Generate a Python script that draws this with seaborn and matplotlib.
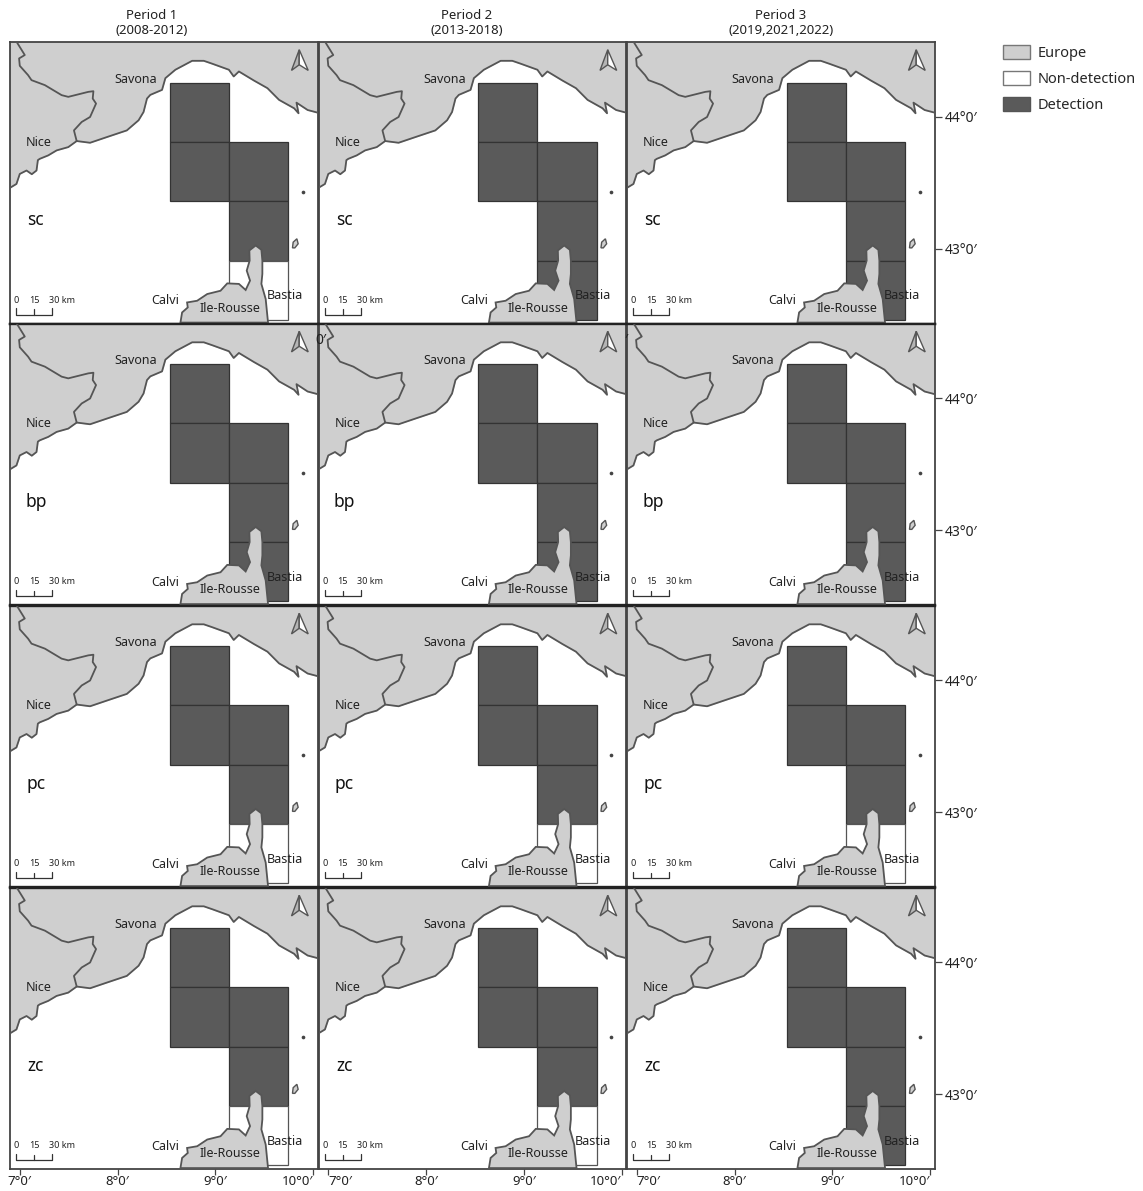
import seaborn as sns
import matplotlib.pyplot as plt
import pandas as pd
from matplotlib.patches import Patch
from matplotlib.transforms import ScaledTranslation

periods = ["Period 1\n(2008-2012)", "Period 2\n(2013-2018)", "Period 3\n(2019,2021,2022)"]
species = ["sc", "bp", "pc", "zc"]
legend_labels = ["Europe", "Non-detection", "Detection"]

# last grid cell (over Cap Corse), 1 = detection, per period
corse_cell = {
    "sc": [0, 1, 1],
    "bp": [1, 1, 1],
    "pc": [0, 0, 0],
    "zc": [0, 0, 1],
}

# grid cells, always detected apart from the last one
cell_lon_edges = [8.533, 9.139, 9.745]
cell_lat_edges = [44.262, 43.812, 43.361, 42.908, 42.458]
fixed_cols = [0, 0, 1, 1]
fixed_rows = [0, 1, 1, 2]

coast_lon = [6.897, 6.966, 7.0, 7.069, 7.123, 7.171, 7.185, 7.205, 7.291, 7.377, 7.496, 7.582, 7.719, 7.890,
             8.095, 8.215, 8.266, 8.301, 8.335, 8.455, 8.489, 8.591, 8.763, 8.882, 8.968, 9.139, 9.188, 9.241,
             9.395, 9.533, 9.652, 9.806, 9.851, 9.830, 9.944, 10.046]
coast_lat = [43.460, 43.491, 43.567, 43.593, 43.565, 43.593, 43.672, 43.682, 43.708, 43.746, 43.771, 43.817,
             43.804, 43.847, 43.898, 43.975, 44.038, 44.140, 44.168, 44.206, 44.295, 44.359, 44.427, 44.427,
             44.405, 44.359, 44.308, 44.346, 44.277, 44.219, 44.130, 44.066, 44.028, 44.109, 44.053, 44.033]
border_lon = [6.966, 7.051, 6.993, 7.0, 7.085, 7.120, 7.257, 7.428, 7.496, 7.701, 7.753, 7.746, 7.780, 7.719,
              7.633, 7.554, 7.582]
border_lat = [44.573, 44.471, 44.445, 44.389, 44.318, 44.280, 44.242, 44.166, 44.153, 44.191, 44.196, 44.140,
              44.102, 44.0, 43.962, 43.898, 43.817]
corsica_lon = [8.643, 8.660, 8.718, 8.711, 8.814, 8.917, 9.053, 9.122, 9.241, 9.310, 9.355, 9.321, 9.351, 9.348,
               9.413, 9.471, 9.481, 9.481, 9.471, 9.515, 9.539]
corsica_lat = [42.437, 42.514, 42.552, 42.590, 42.603, 42.654, 42.679, 42.735, 42.731, 42.685, 42.756, 42.832,
               42.908, 42.985, 43.023, 42.990, 42.908, 42.807, 42.731, 42.616, 42.437]
capraia_lon = [9.789, 9.796, 9.834, 9.847, 9.813]
capraia_lat = [43.005, 43.048, 43.074, 43.036, 43.005]
gorgona_lon = [9.892]
gorgona_lat = [43.430]

places = ["Savona", "Nice", "Calvi", "Ile-Rousse", "Bastia"]
place_lon = [8.188, 7.198, 8.489, 9.149, 9.710]
place_lat = [44.287, 43.806, 42.603, 42.547, 42.641]

lon_ticks = [7, 8, 9, 10]
lon_labels = ["7°0′", "8°0′", "9°0′", "10°0′"]
lat_ticks = [43, 44]
lat_labels = ["43°0′", "44°0′"]

scale_lon = [6.966, 7.147, 7.332]
scale_labels = ["0", "15", "30 km"]
scale_label_lon = [6.966, 7.147, 7.43]

arrow_left_lon = [9.858, 9.779, 9.858]
arrow_left_lat = [44.511, 44.354, 44.397]
arrow_right_lon = [9.858, 9.950, 9.858]
arrow_right_lat = [44.511, 44.354, 44.397]

LAND = "#cfcfcf"
COAST = "#555555"
DARK = "#5a5a5a"
EDGE = "#333333"
W, H = 1143, 1191
col_x = [10, 318.5, 627]
row_y = [42, 323.5, 605.5, 887.5]
title_x = [152, 467, 781]
PW, PH = 308, 281.5

sns.set_theme(style="white")
plt.rcParams["font.family"] = ["Noto Sans", "DejaVu Sans"]

fig = plt.figure(figsize=(W / 100, H / 100), dpi=100)


def draw_cell(ax, col, row, detected):
    left, right = cell_lon_edges[col], cell_lon_edges[col + 1]
    top, bottom = cell_lat_edges[row], cell_lat_edges[row + 1]
    ax.bar(left, top - bottom, width=right - left, bottom=bottom, align="edge",
           color=DARK if detected else "white", edgecolor=EDGE if detected else COAST, linewidth=0.9, zorder=2)


def draw_line(ax, lon, lat, width=1.3):
    frame = pd.DataFrame({"lon": lon, "lat": lat})
    sns.lineplot(data=frame, x="lon", y="lat", sort=False, estimator=None, color=COAST,
                 linewidth=width, ax=ax, zorder=4)


def nudge(label, px):
    label.set_transform(label.get_transform() + ScaledTranslation(px / 100, 0, fig.dpi_scale_trans))


for r, sp in enumerate(species):
    for c in range(3):
        ax = fig.add_axes([col_x[c] / W, 1 - (row_y[r] + PH) / H, PW / W, PH / H])

        # Europe: the coast closed along the top of the panel
        ax.fill(coast_lon + [10.1, 6.85, 6.85], coast_lat + [44.7, 44.7, 43.460], color=LAND, zorder=1)
        for i, j in zip(fixed_cols, fixed_rows):
            draw_cell(ax, i, j, True)
        draw_cell(ax, 1, 3, corse_cell[sp][c])
        ax.fill(corsica_lon, corsica_lat, facecolor=LAND, edgecolor=COAST, linewidth=1.3, zorder=3)
        ax.fill(capraia_lon, capraia_lat, facecolor=LAND, edgecolor=COAST, linewidth=1.0, zorder=4)

        draw_line(ax, coast_lon, coast_lat)
        draw_line(ax, border_lon, border_lat)
        sns.scatterplot(x=gorgona_lon, y=gorgona_lat, s=7, color="#444444", linewidth=0, legend=False, ax=ax,
                        zorder=4)

        for name, x, y in zip(places, place_lon, place_lat):
            ax.text(x, y, name, ha="center", va="center", fontsize=9, color="#222222", zorder=6)
        ax.text(7.164, 43.214, sp, ha="center", va="center", fontsize=12.5, color="#111111", zorder=6)

        # scale bar
        ax.plot([scale_lon[0], scale_lon[0], scale_lon[2], scale_lon[2]], [42.547, 42.496, 42.496, 42.547],
                color="#333333", linewidth=0.9, zorder=5)
        ax.plot([scale_lon[1], scale_lon[1]], [42.496, 42.54], color="#333333", linewidth=0.9, zorder=5)
        for x, lab in zip(scale_label_lon, scale_labels):
            ax.text(x, 42.605, lab, ha="center", va="center", fontsize=6.5, color="#222222", zorder=6)

        # north arrow
        ax.fill(arrow_left_lon, arrow_left_lat, facecolor="#b5b5b5", edgecolor="#555555", linewidth=1.0, zorder=5)
        ax.fill(arrow_right_lon, arrow_right_lat, facecolor="white", edgecolor="#555555", linewidth=1.0, zorder=5)

        ax.set_xlim(6.9, 10.05)
        ax.set_ylim(42.43, 44.57)
        ax.set_xlabel("")
        ax.set_ylabel("")
        for s in ax.spines.values():
            s.set_color("#444444")
            s.set_linewidth(1.3)
        if r < 3:
            ax.spines["bottom"].set_color("#222222")
            ax.spines["bottom"].set_linewidth(1.7)
        if r > 0:
            ax.spines["top"].set_color("#222222")
            ax.spines["top"].set_linewidth(1.7)

        ax.yaxis.tick_right()
        ax.set_xticks(lon_ticks if r == 3 else [])
        ax.set_yticks(lat_ticks if c == 2 else [])
        if r == 3:
            labels = ax.set_xticklabels(lon_labels, fontsize=9.5, color="#222222")
            # end labels are pushed inwards so they do not run into the next panel
            if c == 0:
                nudge(labels[0], -4)
            else:
                labels[0].set_ha("left")
                nudge(labels[0], -2)
            labels[-1].set_ha("right")
            nudge(labels[-1], 3)
        if c == 2:
            ax.set_yticklabels(lat_labels, fontsize=10, color="#222222")
        ax.tick_params(axis="y", length=5, width=0.9, color="#444444", pad=2, right=c == 2, left=False)
        ax.tick_params(axis="x", length=4, width=0.9, color="#444444", pad=0, bottom=r == 3, top=False)

for x, title in zip(title_x, periods):
    fig.text(x / W, 1 - 23 / H, title, fontsize=9.5, color="#222222", ha="center", va="center", linespacing=1.2)

# stray clipped labels left by the map composer
fig.text(321 / W, 1 - 340 / H, "0′", fontsize=10, color="#222222", ha="center", va="center")
fig.text(626 / W, 1 - 340 / H, "′", fontsize=10, color="#222222", ha="center", va="center")

handles = [
    Patch(facecolor=LAND, edgecolor="#777777"),
    Patch(facecolor="white", edgecolor="#777777"),
    Patch(facecolor=DARK, edgecolor="#555555"),
]
fig.legend(handles, legend_labels, loc="upper left", bbox_to_anchor=(1003 / W, 1 - 45 / H), frameon=False,
           fontsize=10.5, handlelength=1.85, handleheight=1.1, labelspacing=0.7, handletextpad=0.55,
           borderaxespad=0, borderpad=0)

plt.savefig("out.png", dpi=100)
